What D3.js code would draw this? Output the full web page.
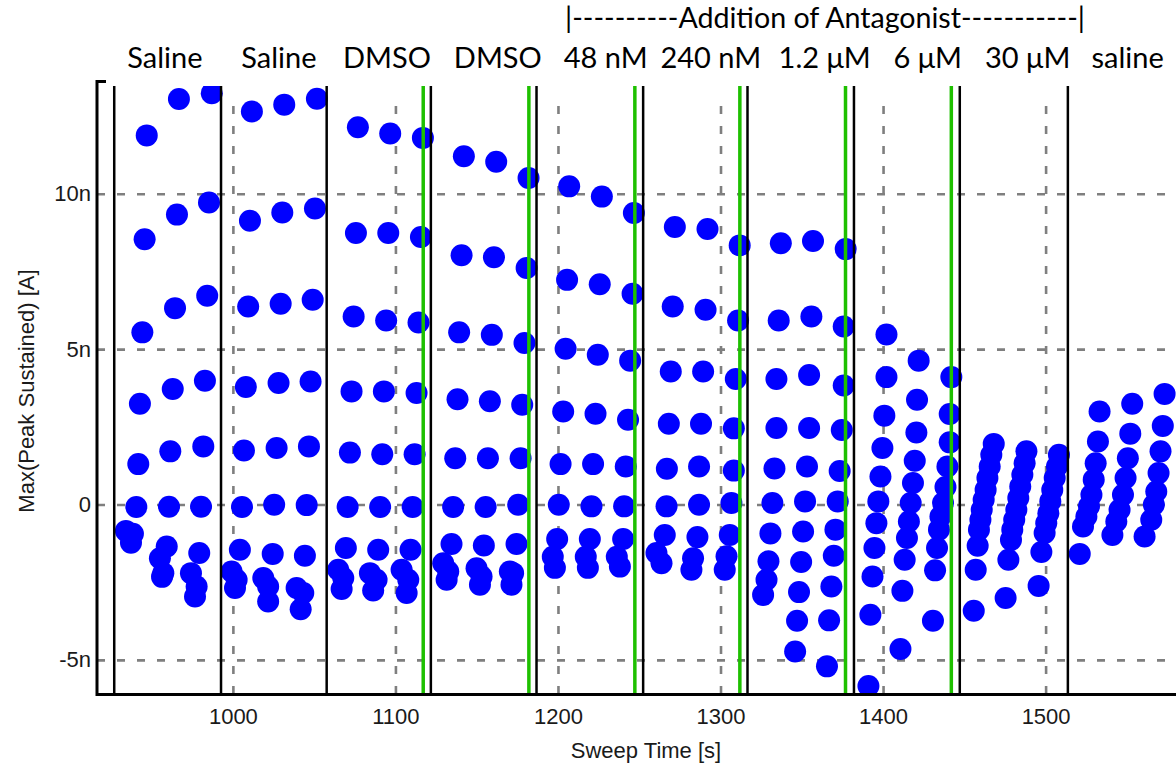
<!DOCTYPE html>
<html>
<head>
<meta charset="utf-8">
<script src="https://cdn.jsdelivr.net/npm/d3@7"></script>
<style>
  body { margin: 0; background: #fff; }
  svg text { font-family: "Liberation Sans", Arial, sans-serif; }
</style>
</head>
<body>
<svg id="chart" width="1176" height="768"></svg>
<script>
////////////////////////////// data //////////////////////////////
// [sweep time (s), max peak sustained current (nA)]
var salineA = [
  [934.2,-0.85],[938.5,-0.94],[937.3,-1.23],[940.6,-0.08],[941.8,1.30],[942.8,3.24],[944.3,5.54],[945.7,8.54],[947.0,11.88],
  [955.1,-1.73],[957.2,-2.21],[956.4,-2.33],[959.3,-1.35],[960.7,-0.07],[961.5,1.71],[963.0,3.72],[964.4,6.32],[965.6,9.33],[966.8,13.05],
  [974.2,-2.21],[977.7,-2.64],[976.7,-2.96],[979.3,-1.56],[980.4,-0.07],[981.8,1.87],[982.8,3.98],[984.2,6.72],[985.3,9.72],[987.0,13.24]
];
var salineB = [
  [999.2,-2.16],[1002.3,-2.42],[1001.3,-2.69],[1004.3,-1.46],[1005.6,-0.08],[1006.8,1.74],[1008.0,3.78],[1009.4,6.37],[1010.5,9.13],[1011.7,12.65],
  [1018.7,-2.37],[1021.7,-2.64],[1021.7,-3.12],[1024.5,-1.59],[1025.4,-0.01],[1026.9,1.82],[1028.1,3.91],[1029.4,6.46],[1030.4,9.40],[1031.6,12.87],
  [1039.2,-2.69],[1043.3,-2.85],[1041.7,-3.37],[1044.3,-1.65],[1045.4,-0.02],[1046.8,1.87],[1047.8,3.96],[1049.1,6.59],[1050.5,9.53],[1051.7,13.06]
];
var dmsoA = [
  [1064.8,-2.10],[1067.9,-2.37],[1066.9,-2.72],[1069.5,-1.40],[1070.6,-0.08],[1072.0,1.67],[1073.0,3.64],[1074.3,6.05],[1075.7,8.74],[1076.9,12.14],
  [1084.3,-2.21],[1088.4,-2.42],[1086.3,-2.77],[1089.4,-1.46],[1090.6,-0.08],[1091.9,1.62],[1092.9,3.64],[1094.3,5.92],[1095.6,8.74],[1096.8,11.94],
  [1103.8,-2.10],[1107.9,-2.42],[1106.9,-2.85],[1109.3,-1.46],[1110.6,-0.08],[1111.8,1.62],[1113.0,3.59],[1114.2,5.86],[1115.7,8.61],[1116.9,11.80]
];
var dmsoB = [
  [1129.4,-1.89],[1132.5,-2.16],[1131.5,-2.42],[1134.5,-1.27],[1135.5,-0.08],[1136.8,1.49],[1138.2,3.39],[1139.2,5.54],[1140.7,8.02],[1142.1,11.21],
  [1149.9,-2.05],[1153.0,-2.32],[1152.0,-2.58],[1154.4,-1.32],[1155.5,-0.08],[1156.9,1.49],[1158.1,3.32],[1159.3,5.46],[1160.6,7.96],[1162.0,11.03],
  [1170.4,-2.16],[1172.4,-2.21],[1171.4,-2.58],[1174.5,-1.27],[1175.5,-0.01],[1177.0,1.49],[1178.0,3.21],[1179.4,5.20],[1180.7,7.61],[1181.9,10.51]
];
var nM48 = [
  [1196.8,-1.68],[1198.1,-2.04],[1199.5,-1.11],[1200.5,-0.01],[1201.6,1.30],[1203.2,2.99],[1204.7,5.01],[1205.6,7.23],[1206.9,10.24],
  [1217.1,-1.68],[1218.4,-2.04],[1219.6,-1.11],[1220.6,-0.06],[1221.6,1.30],[1223.1,2.92],[1224.5,4.82],[1225.7,7.09],[1227.0,9.91],
  [1236.2,-1.68],[1238.1,-2.00],[1240.1,-1.11],[1240.7,-0.06],[1241.7,1.22],[1243.1,2.73],[1244.4,4.63],[1245.9,6.78],[1246.7,9.38]
];
var nM240 = [
  [1260.6,-1.56],[1263.7,-1.89],[1265.7,-0.98],[1266.8,-0.06],[1267.0,1.15],[1268.2,2.60],[1269.4,4.28],[1270.6,6.37],[1271.9,8.93],
  [1283.1,-1.73],[1282.1,-2.10],[1285.8,-1.05],[1286.8,-0.01],[1286.8,1.22],[1288.0,2.60],[1289.3,4.28],[1290.8,6.27],[1292.0,8.87],
  [1303.7,-1.67],[1302.6,-2.10],[1305.7,-0.98],[1306.7,0.05],[1308.2,1.09],[1308.2,2.45],[1309.4,4.04],[1310.8,5.92],[1311.8,8.34]
];
var uM1_2 = [
  [1326.2,-2.91],[1328.3,-2.42],[1329.5,-1.83],[1330.7,-0.93],[1331.9,0.05],[1333.2,1.16],[1334.4,2.46],[1334.4,4.04],[1335.8,5.92],[1337.1,8.41],
  [1345.9,-4.73],[1347.1,-3.74],[1348.3,-2.82],[1349.6,-1.85],[1350.8,-0.87],[1352.0,0.10],[1353.2,1.22],[1354.5,2.46],[1354.5,4.17],[1355.9,6.05],[1356.9,8.48],
  [1365.5,-5.21],[1366.8,-3.73],[1368.2,-2.64],[1369.7,-1.65],[1370.7,-0.81],[1372.1,0.10],[1373.3,1.08],[1374.6,2.40],[1375.8,3.83],[1375.8,5.73],[1377.0,8.22]
];
var uM6 = [
  [1391.0,-5.84],[1392.2,-3.55],[1393.5,-2.32],[1394.7,-1.40],[1395.9,-0.60],[1397.1,0.10],[1398.4,0.90],[1399.6,1.82],[1400.8,2.86],[1402.1,4.10],[1402.1,5.47],
  [1410.7,-4.65],[1411.9,-2.78],[1413.3,-1.78],[1414.7,-1.08],[1415.9,-0.55],[1417.0,0.05],[1418.4,0.69],[1419.5,1.41],[1420.5,2.32],[1420.9,3.37],[1421.9,4.63],
  [1430.7,-3.74],[1432.0,-2.12],[1433.2,-1.40],[1434.4,-0.81],[1435.3,-0.39],[1436.9,0.05],[1438.4,0.56],[1439.6,1.22],[1441.0,2.00],[1441.0,2.91],[1442.0,4.10]
];
var uM30 = [
  [1455.8,-3.42],[1457.0,-2.10],[1458.2,-1.33],[1459.0,-0.81],[1459.9,-0.49],[1460.7,-0.17],[1461.9,0.15],[1463.1,0.47],[1464.2,0.85],[1465.6,1.22],[1466.6,1.60],[1468.1,1.95],
  [1475.4,-3.01],[1477.1,-1.78],[1478.7,-1.14],[1479.5,-0.81],[1480.7,-0.49],[1482.0,-0.17],[1483.2,0.21],[1484.4,0.58],[1485.7,0.96],[1487.1,1.33],[1488.2,1.71],
  [1495.7,-2.62],[1497.4,-1.53],[1499.4,-0.92],[1500.4,-0.60],[1501.7,-0.28],[1502.9,0.10],[1504.1,0.47],[1505.6,0.85],[1507.0,1.22],[1508.2,1.60]
];
var salineWash = [
  [1521.0,-1.59],[1523.0,-0.71],[1525.1,-0.39],[1526.7,-0.06],[1528.2,0.31],[1529.6,0.80],[1530.8,1.33],[1532.2,2.03],[1533.2,2.99],
  [1541.1,-0.98],[1543.5,-0.55],[1545.5,-0.17],[1547.6,0.31],[1549.2,0.85],[1550.6,1.49],[1552.1,2.28],[1553.3,3.24],
  [1560.9,-1.03],[1565.0,-0.49],[1566.6,-0.01],[1568.1,0.42],[1569.5,1.01],[1570.7,1.71],[1572.1,2.53],[1573.2,3.56]
];

var boundaryTimes = [927.0, 992.7, 1057.7, 1121.8, 1186.8, 1252.4, 1316.6, 1382.1, 1447.2, 1513.7];
var additionTimes = [1117.1, 1182.1, 1247.3, 1311.9, 1376.9, 1442.0];

var conditionLabels = ["Saline", "Saline", "DMSO", "DMSO", "48 nM", "240 nM", "1.2 \u03bcM", "6 \u03bcM", "30 \u03bcM", "saline"];
var xTicks = [1000, 1100, 1200, 1300, 1400, 1500];
var yTicks = [-5, 0, 5, 10];

////////////////////////////// chart //////////////////////////////
var svg = d3.select("#chart");
var L = 97, R = 1176, T = 86, B = 694;

var x = d3.scaleLinear().domain([916.4, 1500]).range([L, 1045.6]);
var y = d3.scaleLinear().domain([-6.1, 13.47]).range([B, T]);

// label anchors (time) for the condition names above the plot
var labelAt = [958.2, 1028.3, 1094.8, 1163.0, 1229.4, 1294.0, 1364.1, 1427.5, 1489.0, 1550.5];

svg.append("defs").append("clipPath").attr("id", "plotclip")
  .append("rect").attr("x", L).attr("y", T).attr("width", R - L).attr("height", B - T);

// grid via axes
var gy = svg.append("g").attr("transform", "translate(" + L + ",0)")
  .call(d3.axisLeft(y).tickValues(yTicks).tickSize(-(R - L)).tickPadding(6)
    .tickFormat(function(d) { return d === 0 ? "0" : d + "n"; }));
var gx = svg.append("g").attr("transform", "translate(0," + B + ")")
  .call(d3.axisBottom(x).tickValues(xTicks).tickSize(-(B - T)).tickPadding(14)
    .tickFormat(d3.format("d")));

[gx, gy].forEach(function(g) {
  g.select(".domain").remove();
  g.selectAll(".tick line")
    .attr("stroke", "#7f7f7f")
    .attr("stroke-width", 2.6)
    .attr("stroke-dasharray", "8,12");
  g.selectAll(".tick text")
    .attr("fill", "#1a1a1a")
    .style("font-size", "22px")
    .style("font-family", "'Liberation Sans', Arial, sans-serif");
});
gx.selectAll(".tick line").attr("y2", -(B - T - 12));

// dots
var series = [salineA, salineB, dmsoA, dmsoB, nM48, nM240, uM1_2, uM6, uM30, salineWash];
var plot = svg.append("g").attr("clip-path", "url(#plotclip)");
series.forEach(function(s) {
  plot.selectAll(null)
    .data(s)
    .enter()
    .append("circle")
    .attr("cx", function(d) { return x(d[0]); })
    .attr("cy", function(d) { return y(d[1]); })
    .attr("r", 11)
    .attr("fill", "#0000ff");
});

// segment boundaries and additions
plot.selectAll(".bound")
  .data(boundaryTimes)
  .enter()
  .append("line")
  .attr("x1", function(d) { return x(d); })
  .attr("x2", function(d) { return x(d); })
  .attr("y1", T).attr("y2", B)
  .attr("stroke", "#000").attr("stroke-width", 2.5);

plot.selectAll(".add")
  .data(additionTimes)
  .enter()
  .append("line")
  .attr("x1", function(d) { return x(d); })
  .attr("x2", function(d) { return x(d); })
  .attr("y1", T).attr("y2", B)
  .attr("stroke", "#1ec000").attr("stroke-width", 3.5);

// axis frame
svg.append("path")
  .attr("d", "M106," + (T - 4.5) + "H" + L + "V" + (B + 0.5) + "H" + R)
  .attr("fill", "none").attr("stroke", "#000").attr("stroke-width", 3);

// axis titles
svg.append("text")
  .attr("x", 646).attr("y", 758)
  .attr("text-anchor", "middle")
  .attr("fill", "#1a1a1a")
  .style("font-size", "22px")
  .text("Sweep Time [s]");

svg.append("text")
  .attr("transform", "translate(34,391) rotate(-90)")
  .attr("text-anchor", "middle")
  .attr("fill", "#1a1a1a")
  .style("font-size", "22px")
  .text("Max(Peak Sustained) [A]");

// condition labels
svg.selectAll(".cond")
  .data(conditionLabels)
  .enter()
  .append("text")
  .attr("x", function(d, i) { return x(labelAt[i]); })
  .attr("y", 68)
  .attr("text-anchor", "middle")
  .style("font-family", "Lato, 'Open Sans', sans-serif")
  .style("font-size", "29px")
  .attr("fill", "#000")
  .text(function(d) { return d; });

svg.append("text")
  .attr("x", 825).attr("y", 28)
  .attr("text-anchor", "middle")
  .attr("textLength", 520)
  .attr("lengthAdjust", "spacingAndGlyphs")
  .style("font-family", "Lato, 'Open Sans', sans-serif")
  .style("font-size", "29px")
  .attr("fill", "#000")
  .text("|----------Addition of Antagonist-----------|");
</script>
</body>
</html>
